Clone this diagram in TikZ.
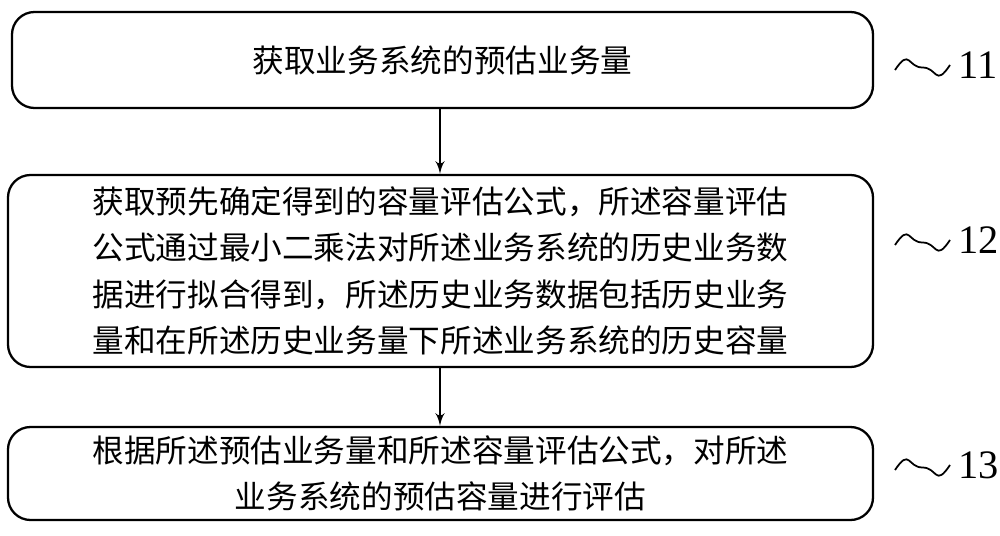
\documentclass[tikz,border=0pt]{standalone}
\usepackage{fontspec}
\newfontfamily\cjk{Noto Sans CJK SC}
\setmainfont{Liberation Serif}
\usetikzlibrary{arrows,positioning,calc}
\begin{document}
\begin{tikzpicture}[auto]
    \tikzstyle{block} = [
        rectangle,
        draw,
        line width=1.3pt,
        rounded corners=0.45cm,
        minimum width=17.3cm,
        inner sep=2pt,
        font=\cjk\fontsize{18}{26.5}\selectfont,
    ]
    \tikzstyle{line} = [
        draw,
        line width=1.5pt,
        -latex',
        >=latex', arrows={-latex'},
        shorten >=0pt,
    ]
    \tikzstyle{wave} = [
        draw,
        line width=1pt,
    ]
    \tikzstyle{num} = [
        font=\fontsize{23}{25}\selectfont,
    ]
    \useasboundingbox (0,0) rectangle (20,10.7);

    \node [block, minimum width=17.22cm, minimum height=1.92cm] (est) at (8.85,9.5) {获取业务系统的预估业务量};
    \node [block, minimum height=3.84cm, text width=17cm, align=center] (form) at (8.81,5.28) {获取预先确定得到的容量评估公式，所述容量评估\\公式通过最小二乘法对所述业务系统的历史业务数\\据进行拟合得到，所述历史业务数据包括历史业务\\量和在所述历史业务量下所述业务系统的历史容量};
    \node [block, minimum height=1.86cm, align=center] (eval) at (8.81,1.23) {根据所述预估业务量和所述容量评估公式，对所述\\业务系统的预估容量进行评估};

    \path [line, arrows={-latex'[scale=1.6]}] (est.south -| 8.8,0) -- (form.north -| 8.8,0);
    \path [line, arrows={-latex'[scale=1.6]}] (form.south -| 8.8,0) -- (eval.north -| 8.8,0);

    % step numbers
    \foreach \y/\n in {9.3/11, 5.8/12, 1.3/13} {
        \coordinate (w\n) at (17.9,\y);
        \coordinate (m\n) at (18.45,\y+0.05);
        \coordinate (e\n) at (19.0,\y+0.1);
        \path [wave] (w\n) .. controls ($(w\n)+(0.3,0.45)$) and ($(m\n)+(-0.3,0)$) .. (m\n)
            .. controls ($(m\n)+(0.3,0)$) and ($(e\n)+(-0.3,-0.45)$) .. (e\n);
        \node [num, anchor=west] (n\n) at ($(e\n)+(0.05,0)$) {\n};
    }
\end{tikzpicture}
\end{document}
